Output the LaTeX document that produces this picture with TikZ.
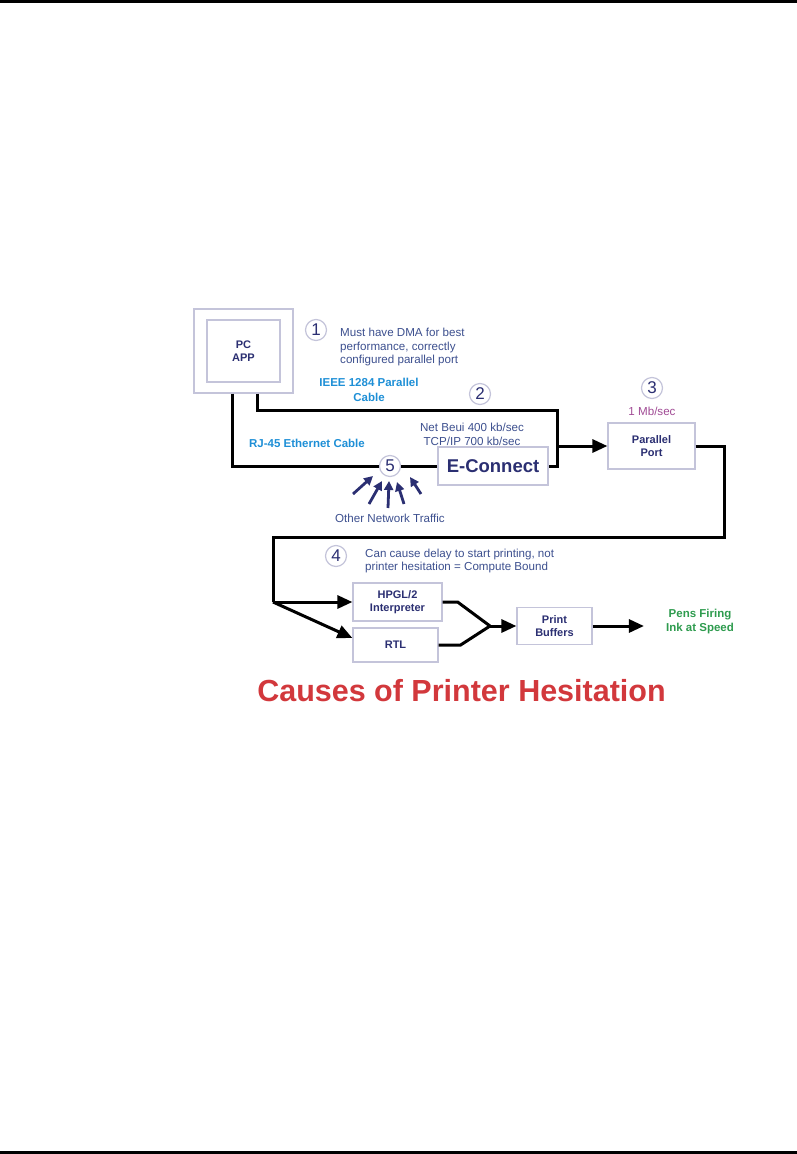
\documentclass[tikz,border=0pt]{standalone}
\usepackage{fontspec}
\setmainfont{Liberation Sans}
\usetikzlibrary{arrows.meta,positioning}
\definecolor{navy}{HTML}{2B2F72}
\definecolor{cableblue}{HTML}{1E8FD6}
\definecolor{noteblue}{HTML}{3C4F8E}
\definecolor{boxline}{HTML}{C4C4DA}
\definecolor{rate}{HTML}{A04A94}
\definecolor{pens}{HTML}{2E9B4E}
\definecolor{titlered}{HTML}{D2383C}
\tikzset{
  blk/.style={draw=boxline, line width=1.2pt, fill=white, align=center, inner sep=0pt,
    font=\fontsize{11}{12.5}\selectfont\bfseries, text=navy},
  num/.style={circle, draw=boxline, line width=1.2pt, fill=white, minimum size=21pt, inner sep=0pt,
    font=\fontsize{17}{17}\selectfont, text=navy},
  note/.style={align=left, inner sep=0pt, font=\fontsize{11.6}{13.8}\selectfont, text=noteblue},
  cablelbl/.style={align=center, inner sep=0pt, font=\fontsize{11.5}{14.5}\selectfont\bfseries, text=cableblue},
  cable/.style={line width=3pt},
  flow/.style={line width=3pt, -{Triangle[length=15pt,width=13pt]}},
  traffic/.style={line width=2.8pt, navy, -{Triangle[length=9pt,width=9pt]}},
}
\begin{document}
\begin{tikzpicture}[x=1pt,y=-1pt]
\useasboundingbox (0,0) rectangle (797,1154);
\draw[line width=2.5pt] (0,1.25) -- (797,1.25);
\draw[line width=3pt] (0,1152.5) -- (797,1152.5);

\node[blk, minimum width=99pt, minimum height=84pt] (pcout) at (243.5,351) {};
\node[blk, minimum width=73pt, minimum height=62pt] (pcin) at (243.5,351) {PC\\APP};
\node[num] (n1) at (316,330) {1};
\node[note, anchor=west] (dma) at (340,347) {Must have DMA for best\\performance, correctly\\configured parallel port};
\node[cablelbl] (ieee) at (369,390) {IEEE 1284 Parallel\\Cable};
\node[num] (n2) at (480,394) {2};
\node[note, align=center] (rates) at (472,434) {Net Beui 400 kb/sec\\TCP/IP 700 kb/sec};
\node[cablelbl] (rj45) at (307,443) {RJ-45 Ethernet Cable};
\node[num] (n5) at (390,466) {5};
\node[blk, minimum width=110pt, minimum height=38pt, font=\fontsize{18.5}{20}\selectfont\bfseries] (econ) at (493,466) {E-Connect};
\node[note, align=center] (traffic) at (390,518) {Other Network Traffic};
\node[num] (n3) at (652,388) {3};
\node[note, text=rate] (mbps) at (652,411) {1 Mb/sec};
\node[blk, minimum width=87pt, minimum height=46pt] (pport) at (651.5,446) {Parallel\\Port};
\node[num] (n4) at (336,556) {4};
\node[note, anchor=west] (delay) at (365,561) {Can cause delay to start printing, not\\printer hesitation = Compute Bound};
\node[blk, minimum width=89pt, minimum height=38pt] (hpgl) at (397.5,602) {HPGL/2\\Interpreter};
\node[blk, minimum width=85pt, minimum height=34pt] (rtl) at (395.5,645) {RTL};
\node[blk, minimum width=75pt, minimum height=37pt] (pbuf) at (554.5,626) {Print\\Buffers};
\node[align=center, inner sep=0pt, font=\fontsize{11.5}{14}\selectfont\bfseries, text=pens] (pens) at (700,622) {Pens Firing\\Ink at Speed};
\node[inner sep=0pt, font=\fontsize{30.5}{34}\selectfont\bfseries, text=titlered] (title) at (461.5,691) {Causes of Printer Hesitation};

\coordinate (parA) at ([xshift=13.5pt]pcout.south);
\coordinate (ethA) at ([xshift=-11.5pt]pcout.south);
\coordinate (jx) at (557,446);
\coordinate (turn) at (724,537);
\coordinate (split) at (273,602);
\coordinate (merge) at (490,626);
\draw[cable] (parA) -- ++(0,17) -| (jx) |- (econ.east);
\draw[flow] (jx) -- (pport.west);
\draw[cable] (ethA) |- (n5.west);
\draw[cable] (n5.east) -- (econ.west);
\foreach \ax/\ay/\bx/\by in {353/494/373/476, 369/504/382/481, 388/508/389/481, 404/504/397/482, 421/494/410/477}
  \draw[traffic] (\ax,\ay) -- (\bx,\by);
\draw[cable] (pport.east) -| (turn) -- (turn -| split) -- (split);
\draw[flow] (split) -- (hpgl.west);
\draw[flow] (split) -- ([yshift=7pt]rtl.west);
\draw[cable] (hpgl.east) -- ++(15,0) -- (merge);
\draw[cable] (rtl.east) -- ++(22,0) -- (merge);
\draw[flow] (merge) -- (pbuf.west);
\draw[flow] (pbuf.east) -- ([xshift=-22pt]pens.west |- pbuf.east);
\end{tikzpicture}
\end{document}
